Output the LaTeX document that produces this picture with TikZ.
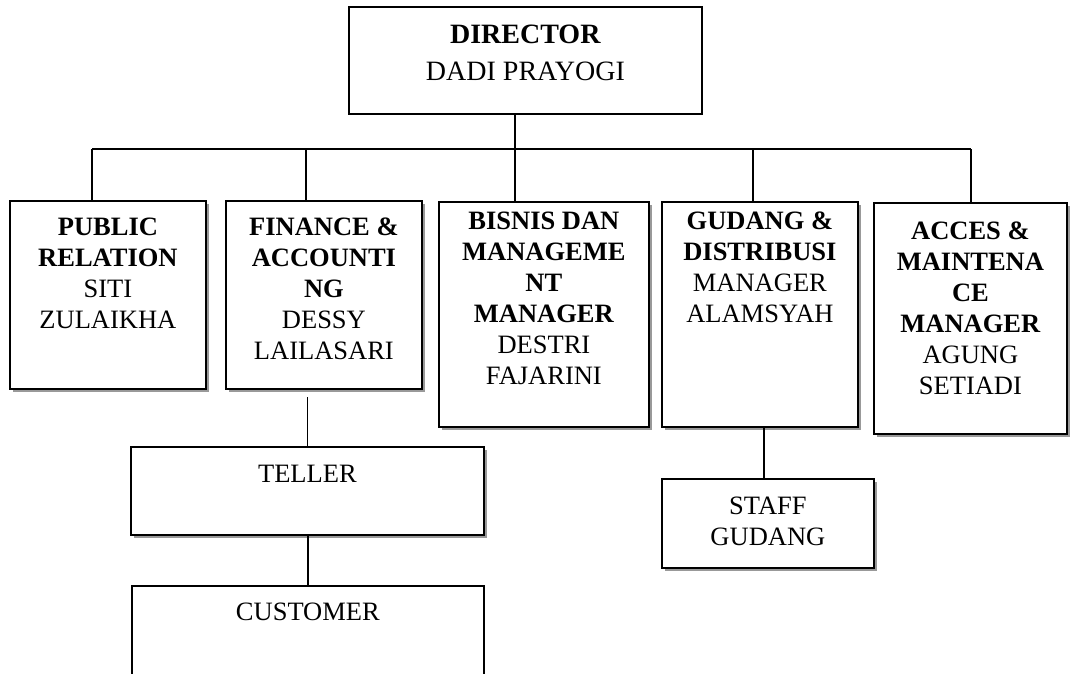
\documentclass[tikz,border=0pt]{standalone}
\usepackage{fontspec}
\setmainfont{Liberation Serif}
\usetikzlibrary{positioning,shadows}
\tikzset{
  unit/.style  = {rectangle, draw, line width=1.8pt, fill=white, anchor=north west, inner sep=0,
                  drop shadow={shadow xshift=3pt, shadow yshift=-3pt, fill=black!40, opacity=1}},
  plain/.style = {rectangle, draw, line width=1.8pt, fill=white, anchor=north west, inner sep=0},
  txt/.style   = {anchor=north, align=center, inner sep=0, font=\fontsize{26.5}{31}\selectfont},
  link/.style  = {line width=1.4pt}
}

\begin{document}
\begin{tikzpicture}[x=1pt,y=-1pt]
  \clip (0,0) rectangle (1071,673);
  % boxes
  \node[plain, minimum width=353, minimum height=107] (dir) at (348,6)   {};
  \node[unit,  minimum width=196, minimum height=188] (pr)  at (9,200)   {};
  \node[unit,  minimum width=196, minimum height=188] (fin) at (225,200) {};
  \node[unit,  minimum width=210, minimum height=225] (bis) at (438,201) {};
  \node[unit,  minimum width=196, minimum height=225] (gud) at (661,201) {};
  \node[unit,  minimum width=193, minimum height=231] (acc) at (873,202) {};
  \node[unit,  minimum width=353, minimum height=88]  (tel) at (130,446) {};
  \node[plain, minimum width=352, minimum height=105] (cus) at (131,585) {};
  \node[unit,  minimum width=212, minimum height=89]  (stf) at (661,478) {};
  % texts
  \node[txt, font=\fontsize{28}{37}\selectfont, below=19pt of dir.north] (dirT) {\textbf{DIRECTOR}\\DADI PRAYOGI};
  \node[txt, below=18pt of pr.north]  (prT)  {\textbf{PUBLIC}\\\textbf{RELATION}\\SITI\\ZULAIKHA};
  \node[txt, below=18pt of fin.north] (finT) {\textbf{FINANCE \&}\\\textbf{ACCOUNTI}\\\textbf{NG}\\DESSY\\LAILASARI};
  \node[txt, below=11pt of bis.north] (bisT) {\textbf{BISNIS DAN}\\\textbf{MANAGEME}\\\textbf{NT}\\\textbf{MANAGER}\\DESTRI\\FAJARINI};
  \node[txt, below=11pt of gud.north] (gudT) {\textbf{GUDANG \&}\\\textbf{DISTRIBUSI}\\MANAGER\\ALAMSYAH};
  \node[txt, below=20pt of acc.north] (accT) {\textbf{ACCES \&}\\\textbf{MAINTENA}\\\textbf{CE}\\\textbf{MANAGER}\\AGUNG\\SETIADI};
  \node[txt, below=19pt of tel.north] (telT) {TELLER};
  \node[txt, below=18pt of cus.north] (cusT) {CUSTOMER};
  \node[txt, below=19pt of stf.north] (stfT) {STAFF\\GUDANG};
  % lines
  \coordinate (hubL) at (92,149);
  \coordinate (hubR) at (971,149);
  \draw[link] (hubL) -- (hubR);
  \foreach \u/\x in {pr/92, fin/306, bis/515, gud/753, acc/971}{
    \coordinate (t\u) at (\x,149);
    \draw[link] (t\u) -- (t\u |- \u.north);
  }
  \draw[link] (tbis) -- (tbis |- dir.south);
  \draw[link, shorten >=7pt] (tel.north) -- (tel.north |- fin.south);
  \draw[link] (cus.north) -- (cus.north |- tel.south);
  \coordinate (sg) at ([xshift=-4pt]stf.north);
  \draw[link] (sg) -- (sg |- gud.south);
\end{tikzpicture}
\end{document}
